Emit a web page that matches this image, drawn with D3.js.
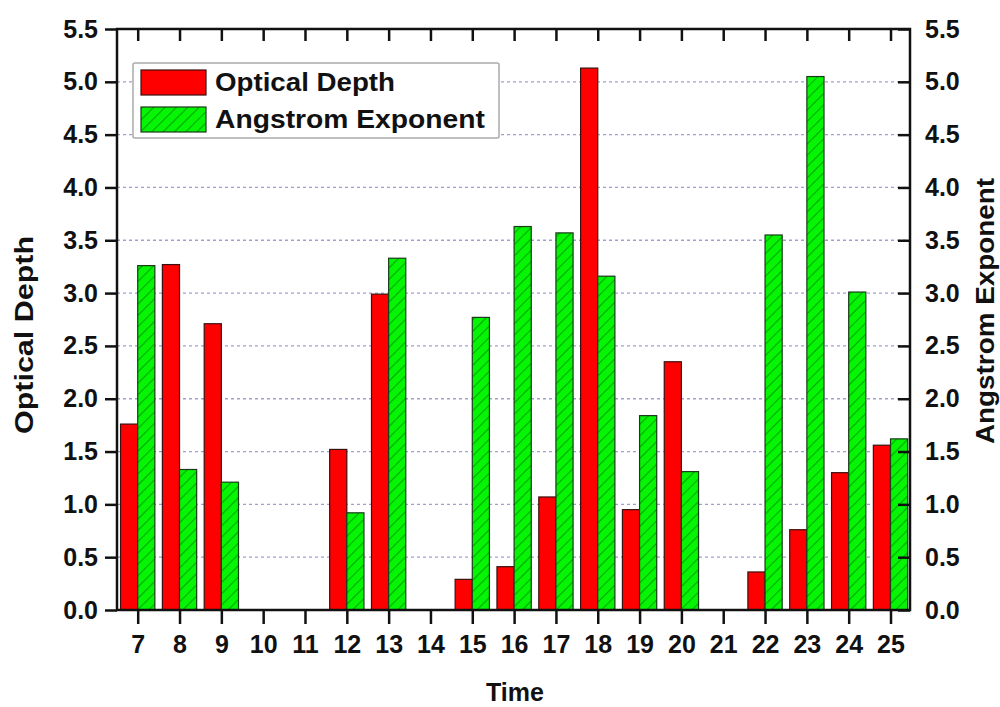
<!DOCTYPE html>
<html>
<head>
<meta charset="utf-8">
<script src="https://cdn.jsdelivr.net/npm/d3@7"></script>
<style>
  body { margin: 0; background: #fff; }
  svg { display: block; font-family: "Liberation Sans", Arial, sans-serif; }
</style>
</head>
<body>
<svg id="chart" width="1000" height="707"></svg>
<script>
const times = [7, 8, 9, 10, 11, 12, 13, 14, 15, 16, 17, 18, 19, 20, 21, 22, 23, 24, 25];
const opticalDepth = [1.76, 3.27, 2.71, 0, 0, 1.52, 2.99, 0, 0.29, 0.41, 1.07, 5.13, 0.95, 2.35, 0, 0.36, 0.76, 1.30, 1.56];
const angstromExponent = [3.26, 1.33, 1.21, 0, 0, 0.92, 3.33, 0, 2.77, 3.63, 3.57, 3.16, 1.84, 1.31, 0, 3.55, 5.05, 3.01, 1.62];
const yTicks = [0, 0.5, 1, 1.5, 2, 2.5, 3, 3.5, 4, 4.5, 5, 5.5];
const gridValues = [0.5, 1, 1.5, 2, 2.5, 3, 3.5, 4, 4.5, 5];
const seriesNames = ["Optical Depth", "Angstrom Exponent"];

const svg = d3.select("#chart");
const L = 117, R = 910, T = 29, B = 610;

const x = d3.scaleLinear().domain([6.505, 25.466]).range([L, R]);
const y = d3.scaleLinear().domain([0, 5.5]).range([B, T]);
const barW = 0.41;

// hatch pattern
const defs = svg.append("defs");
const pat = defs.append("pattern")
  .attr("id", "hatch").attr("patternUnits", "userSpaceOnUse")
  .attr("width", 8).attr("height", 8)
  .attr("patternTransform", "rotate(45)");
pat.append("rect").attr("width", 8).attr("height", 8).attr("fill", "#05f505");
pat.append("line").attr("x1", 0).attr("y1", 0).attr("x2", 0).attr("y2", 8)
  .attr("stroke", "#00a800").attr("stroke-width", 2.2);

// grid
svg.append("g").selectAll("line").data(gridValues).join("line")
  .attr("x1", L).attr("x2", R)
  .attr("y1", d => y(d)).attr("y2", d => y(d))
  .attr("stroke", "#a0a0d0").attr("stroke-width", 1.3)
  .attr("stroke-dasharray", "3,3");

// bars
const data = times.map((t, i) => ({ t, od: opticalDepth[i], ae: angstromExponent[i] }));
const g = svg.append("g");
g.selectAll("rect.od").data(data.filter(d => d.od > 0)).join("rect")
  .attr("class", "od")
  .attr("x", d => x(d.t - barW)).attr("width", d => x(d.t) - x(d.t - barW))
  .attr("y", d => y(d.od)).attr("height", d => y(0) - y(d.od))
  .attr("fill", "#ff0000").attr("stroke", "#3a1010").attr("stroke-width", 1.2);
g.selectAll("rect.ae").data(data.filter(d => d.ae > 0)).join("rect")
  .attr("class", "ae")
  .attr("x", d => x(d.t)).attr("width", d => x(d.t + barW) - x(d.t))
  .attr("y", d => y(d.ae)).attr("height", d => y(0) - y(d.ae))
  .attr("fill", "url(#hatch)").attr("stroke", "#1a3a1a").attr("stroke-width", 1.2);

// axes
const fmt = d3.format(".1f");
function styleAxis(sel) {
  sel.select(".domain").remove();
  sel.selectAll("line").attr("stroke", "#111").attr("stroke-width", 2.5);
  sel.selectAll("text").attr("fill", "#111").attr("font-size", 25).attr("font-weight", "bold");
}
svg.append("g").attr("transform", `translate(${L},0)`)
  .call(d3.axisLeft(y).tickValues(yTicks).tickFormat(fmt).tickSizeInner(12).tickSizeOuter(0).tickPadding(7))
  .call(styleAxis);
svg.append("g").attr("transform", `translate(${R},0)`)
  .call(d3.axisRight(y).tickValues(yTicks).tickFormat(fmt).tickSizeInner(-12).tickSizeOuter(0).tickPadding(15))
  .call(styleAxis);
svg.append("g").attr("transform", `translate(0,${B})`)
  .call(d3.axisBottom(x).tickValues(times).tickFormat(d3.format("d")).tickSizeInner(14).tickSizeOuter(0).tickPadding(11))
  .call(styleAxis);
svg.append("g").attr("transform", `translate(0,${T})`)
  .call(d3.axisTop(x).tickValues(times).tickFormat("").tickSizeInner(-12).tickSizeOuter(0))
  .call(styleAxis);

// frame
svg.append("rect").attr("x", L).attr("y", T).attr("width", R - L).attr("height", B - T)
  .attr("fill", "none").attr("stroke", "#111").attr("stroke-width", 2.5);

// axis titles
svg.append("text").attr("x", 515).attr("y", 701).attr("text-anchor", "middle")
  .attr("font-size", 25).attr("font-weight", "bold").attr("fill", "#111").text("Time");
svg.append("text").attr("transform", "translate(33,335) rotate(-90)").attr("text-anchor", "middle")
  .attr("font-size", 25).attr("font-weight", "bold").attr("fill", "#111")
  .attr("textLength", 198).attr("lengthAdjust", "spacingAndGlyphs").text("Optical Depth");
svg.append("text").attr("transform", "translate(994,311) rotate(-90)").attr("text-anchor", "middle")
  .attr("font-size", 25).attr("font-weight", "bold").attr("fill", "#111")
  .attr("textLength", 266).attr("lengthAdjust", "spacingAndGlyphs").text("Angstrom Exponent");

// legend
const lg = svg.append("g");
lg.append("rect").attr("x", 133).attr("y", 63).attr("width", 366).attr("height", 75)
  .attr("fill", "#fff").attr("stroke", "#aaa").attr("stroke-width", 1.5).attr("rx", 2);
const legendFills = ["#ff0000", "url(#hatch)"];
const legendStrokes = ["#3a1010", "#1a3a1a"];
const legendLens = [180, 270];
seriesNames.forEach((name, i) => {
  const yy = 70 + i * 37;
  lg.append("rect").attr("x", 141).attr("y", yy).attr("width", 65).attr("height", 25)
    .attr("fill", legendFills[i]).attr("stroke", legendStrokes[i]).attr("stroke-width", 1.2);
  lg.append("text").attr("x", 215).attr("y", yy + 21)
    .attr("font-size", 25).attr("font-weight", "bold").attr("fill", "#111")
    .attr("textLength", legendLens[i]).attr("lengthAdjust", "spacingAndGlyphs").text(name);
});
</script>
</body>
</html>
